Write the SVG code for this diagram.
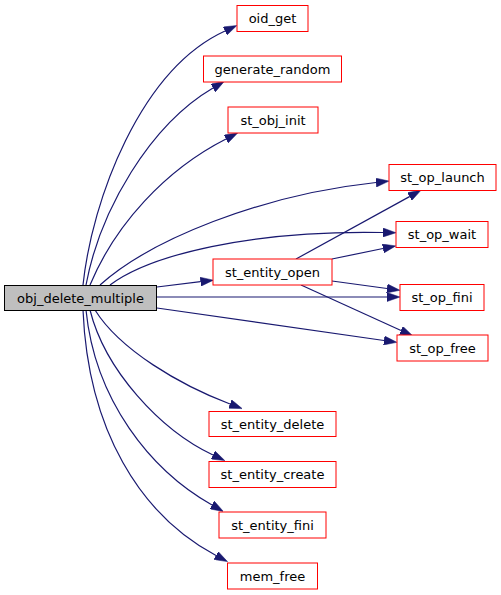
<svg xmlns="http://www.w3.org/2000/svg" width="501" height="595" viewBox="0 0 501 595">
<style>
.n rect{fill:#ffffff;stroke:#ff0000;stroke-width:1}
.root rect{fill:#bfbfbf;stroke:#000000}
text{font-family:"DejaVu Sans",sans-serif;font-size:13px;text-anchor:middle;fill:#000000}
.e path{fill:none;stroke:#191970;stroke-width:1.2;marker-end:url(#ah)}
</style>
<defs>
<marker id="ah" markerUnits="userSpaceOnUse" markerWidth="13" markerHeight="9" refX="0" refY="4.5" orient="auto">
<path d="M0,0 L13,4.5 L0,9 z" fill="#191970" stroke="#191970" stroke-width="0.5"/>
</marker>
</defs>
<rect width="501" height="595" fill="#ffffff"/>
<g class="e">
<path d="M83,285 C92,200 140,70 225,31"/>
<path d="M86,285 C100,210 150,125 213,88"/>
<path d="M90,285 C115,225 165,170 226,139"/>
<path d="M100,285 C150,240 260,195 376,182.5"/>
<path d="M110,285 C150,255 250,230 383,232.5"/>
<path d="M157,287 L200.5,281.7"/>
<path d="M157,297 L387,297"/>
<path d="M157,308 L384,340.5"/>
<path d="M296,259 L409.5,196.6"/>
<path d="M332,259 L383,248.5"/>
<path d="M332,281 L387,288.5"/>
<path d="M301,285 L401,330.5"/>
<path d="M95,310 C120,350 180,385 230,404"/>
<path d="M90,310 C105,370 160,430 213,455"/>
<path d="M86,310 C95,400 150,470 212,505"/>
<path d="M83,310 C88,430 140,515 216,555.5"/>
</g>
<g id="obj_delete_multiple" class="n root"><rect x="4.5" y="285.5" width="152" height="25"/><text x="80.5" y="302.5">obj_delete_multiple</text></g>
<g id="oid_get" class="n"><rect x="237" y="5.5" width="71" height="26"/><text x="272.5" y="23">oid_get</text></g>
<g id="generate_random" class="n"><rect x="203.5" y="56" width="138" height="26"/><text x="272.5" y="73.5">generate_random</text></g>
<g id="st_obj_init" class="n"><rect x="228" y="107" width="90" height="26"/><text x="273" y="124.5">st_obj_init</text></g>
<g id="st_op_launch" class="n"><rect x="389" y="164.5" width="107" height="26"/><text x="442.5" y="182">st_op_launch</text></g>
<g id="st_op_wait" class="n"><rect x="396" y="221.5" width="92" height="26"/><text x="442" y="239">st_op_wait</text></g>
<g id="st_entity_open" class="n"><rect x="213" y="259" width="119" height="26"/><text x="272.5" y="276.5">st_entity_open</text></g>
<g id="st_op_fini" class="n"><rect x="400" y="284.5" width="84" height="26"/><text x="442" y="302">st_op_fini</text></g>
<g id="st_op_free" class="n"><rect x="397" y="335" width="91" height="26"/><text x="442.5" y="352.5">st_op_free</text></g>
<g id="st_entity_delete" class="n"><rect x="209" y="411.5" width="127" height="25"/><text x="272.5" y="428.5">st_entity_delete</text></g>
<g id="st_entity_create" class="n"><rect x="209" y="461.5" width="127" height="26"/><text x="272.5" y="479">st_entity_create</text></g>
<g id="st_entity_fini" class="n"><rect x="219" y="512" width="107" height="26"/><text x="272.5" y="529.5">st_entity_fini</text></g>
<g id="mem_free" class="n"><rect x="227.5" y="563" width="90" height="26"/><text x="272.5" y="580.5">mem_free</text></g>
</svg>
